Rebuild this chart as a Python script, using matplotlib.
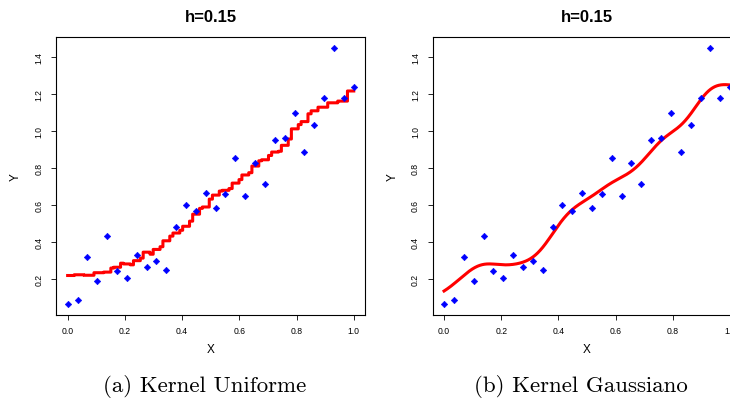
import numpy as np
import matplotlib
matplotlib.use("Agg")
from matplotlib import pyplot as plt

# dados (30 pontos igualmente espacados em [0, 1])
x = np.linspace(0, 1, 30)
y = np.array([0.061, 0.086, 0.317, 0.187, 0.431, 0.240, 0.202, 0.328, 0.261, 0.297,
              0.247, 0.477, 0.600, 0.564, 0.661, 0.580, 0.656, 0.850, 0.647, 0.825,
              0.710, 0.951, 0.960, 1.095, 0.886, 1.032, 1.177, 1.449, 1.177, 1.236])
h = 0.15
titulos = ["h=0.15", "h=0.15"]
legendas = ["(a) Kernel Uniforme", "(b) Kernel Gaussiano"]
xticks = [0.0, 0.2, 0.4, 0.6, 0.8, 1.0]
yticks = [0.2, 0.4, 0.6, 0.8, 1.0, 1.2, 1.4]

grade = np.linspace(0, 1, 1001)


def nw_uniforme(g, xs, ys, h):
    w = (np.abs(g[:, None] - xs[None, :]) <= h).astype(float)
    return (w * ys).sum(1) / w.sum(1)


def nw_gauss(g, xs, ys, h):
    s = 0.3706 * h  # escala do ksmooth(kernel="normal")
    w = np.exp(-0.5 * ((g[:, None] - xs[None, :]) / s) ** 2)
    return (w * ys).sum(1) / w.sum(1)


ajustes = [nw_uniforme(grade, x, y, h), nw_gauss(grade, x, y, h)]

plt.rcParams['font.family'] = ['Liberation Sans', 'DejaVu Sans']

W, H = 730, 406
fig = plt.figure(figsize=(W / 100, H / 100), dpi=100)

lefts = [56.2, 432.6]
larg = 309.0
topo, base = 38.3, 315.5
centros_leg = [204.5, 581]

for i in range(2):
    ax = fig.add_axes([lefts[i] / W, (H - base) / H, larg / W, (base - topo) / H])
    ax.plot(x, y, 'D', color='#0000ff', ms=3.3, mew=0.4, zorder=3)
    if i == 0:
        ax.step(grade, ajustes[i], where='post', color='#ff0000', lw=2.2, zorder=2)
    else:
        ax.plot(grade, ajustes[i], color='#ff0000', lw=2.2, zorder=2)
    ax.set_xlim(-0.04, 1.04)
    pad = 0.04 * (y.max() - y.min())
    ax.set_ylim(y.min() - pad, y.max() + pad)
    ax.set_xticks(xticks)
    ax.set_xticklabels([f"{v:.1f}" for v in xticks])
    ax.set_yticks(yticks)
    ax.set_yticklabels([f"{v:.1f}" for v in yticks], rotation=90, va='center')
    ax.tick_params(direction='out', length=3.6, width=0.6, labelsize=6.2, pad=5)
    ax.tick_params(axis='y', pad=5.5)
    for sp in ax.spines.values():
        sp.set_linewidth(0.8)
    ax.set_xlabel("X", fontsize=8.5)
    ax.set_ylabel("Y", fontsize=8.5)
    ax.xaxis.set_label_coords(0.5, -0.125)
    ax.xaxis.label.set_va('center')
    ax.yaxis.set_label_coords(-0.13, 0.5)
    ax.yaxis.label.set_va('center')
    fig.text((lefts[i] + larg / 2) / W, 1 - 17 / H, titulos[i], ha='center', va='center',
             fontsize=12, fontweight='bold')
    fig.text(centros_leg[i] / W, 1 - 387 / H, legendas[i], ha='center', va='center',
             fontsize=16.5, family='cmr10')

fig.savefig("out.png", dpi=100)
